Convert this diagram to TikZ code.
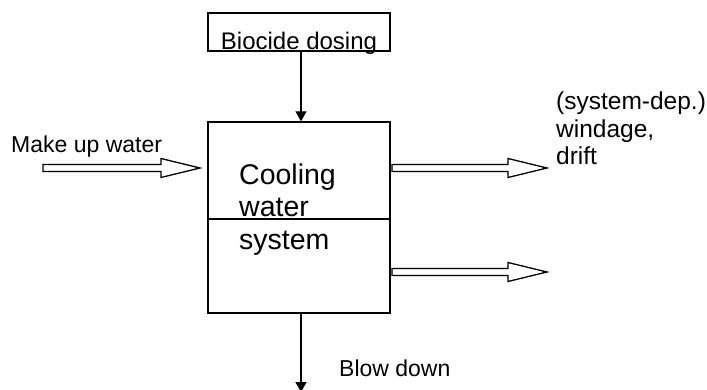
\documentclass[tikz,border=0pt]{standalone}
\usepackage{fontspec}
\setmainfont{Liberation Sans}
\usetikzlibrary{arrows.meta,calc}
\tikzset{
  boxline/.style={draw=black,line width=1.4pt},
  thinline/.style={draw=black,line width=1.1pt},
  flow/.style={draw=black,line width=1.4pt,-{Triangle[length=10pt,width=11pt]}},
  hollow/.style={draw=black,line width=1.3pt,fill=white,line join=miter},
  smalltext/.style={inner sep=0pt,font=\fontsize{23}{27.5}\selectfont},
  bigtext/.style={inner sep=0pt,font=\fontsize{28.5}{33}\selectfont,align=left}
}
\newcommand\hollowarrow[2]{%
  \draw[hollow] ($(#1)+(0,-3.5)$) -- ($(#2)+(-39,-3.5)$) -- ($(#2)+(-39,-9.5)$) -- (#2)
    -- ($(#2)+(-39,9.5)$) -- ($(#2)+(-39,3.5)$) -- ($(#1)+(0,3.5)$) -- cycle;}
\begin{document}
\begin{tikzpicture}[x=1pt,y=-1pt]
\useasboundingbox (0,0) rectangle (707,390);
\clip (0,0) rectangle (707,390);
% biocide box
\node[boxline,minimum width=182pt,minimum height=38pt,inner sep=0pt] (bio) at (299,32) {};
\node[smalltext,font=\fontsize{24}{28}\selectfont,anchor=base] (biot) at (299,50) {Biocide dosing};
% main box
\node[boxline,minimum width=182pt,minimum height=191pt,inner sep=0pt] (cw) at (299,217.5) {};
\coordinate (divL) at (208,219);
\coordinate (divR) at (390,219);
\draw[thinline] (divL) -- (divR);
\node[bigtext,anchor=base west] (cwt) at (239,250) {Cooling\\water\\system};
% biocide arrow
\draw[flow] (bio.south -| 301,0) -- (cw.north -| 301,0);
% blow down
\coordinate (bdend) at (301,392);
\draw[flow] (cw.south -| 301,0) -- (bdend);
\node[smalltext,font=\fontsize{23}{27}\selectfont,anchor=base west] (bdt) at (339,376) {Blow down};
% make up water
\node[smalltext,font=\fontsize{23}{27}\selectfont,anchor=base west] (mut) at (11,153) {Make up water};
\coordinate (mu1) at (43,168);
\coordinate (mu2) at (200,168);
\hollowarrow{mu1}{mu2}
% right outputs
\coordinate (o1a) at (392,168);
\coordinate (o1b) at (547,168);
\hollowarrow{o1a}{o1b}
\coordinate (o2a) at (392,272);
\coordinate (o2b) at (547,272);
\hollowarrow{o2a}{o2b}
\node[smalltext,font=\fontsize{24.5}{27.5}\selectfont,align=left,anchor=base west] (wt) at (556,165) {(system-dep.)\\windage,\\drift};
\end{tikzpicture}
\end{document}
